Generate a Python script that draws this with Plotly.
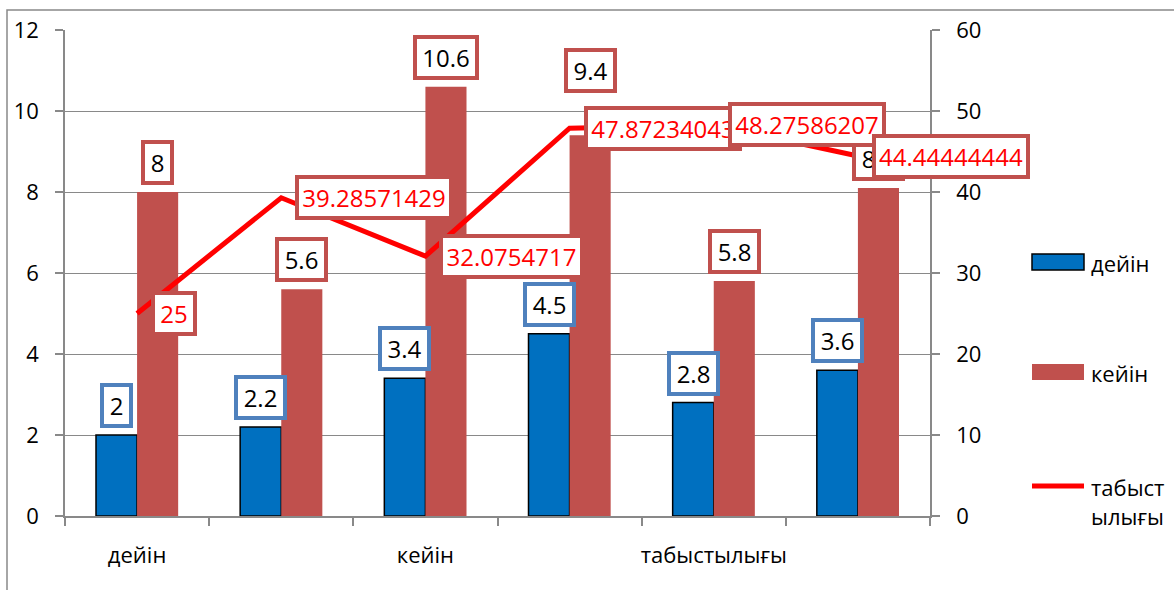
import plotly.graph_objects as go

# Series data
series_names = ["дейін", "кейін", "табыстылығы"]
before_vals = [2, 2.2, 3.4, 4.5, 2.8, 3.6]
after_vals = [8, 5.6, 10.6, 9.4, 5.8, 8.1]
success_vals = [25, 39.28571429, 32.0754717, 47.87234043, 48.27586207, 44.44444444]

# Category axis: six groups, only every other one labelled
tick_positions = [0, 2, 4]
tick_labels = ["дейін", "кейін", "табыстылығы"]

# Extra upward lift (px) for individual "кейін" value boxes
after_label_lift = [0, 0, 0, 35, 0, 0]

W, H = 1174, 590
ML, MR, MT, MB = 65, 244, 30, 74
PW, PH = W - ML - MR, H - MT - MB

BLUE = "#0070c0"
RED_BAR = "#c0504d"
BLUE_EDGE = "#4f81bd"
LINE_RED = "#ff0000"
GRID = "#898989"
FONT = "Open Sans"


def px(x):
    return (x - ML) / PW


def py(y):
    return (H - MB - y) / PH


def box_width(text):
    # approximate width of a numeric label at 24px, plus inner padding
    w = 0.0
    for ch in text:
        w += 6.2 if ch == "." else 13.2
    return round(w + 6)


xs = list(range(len(before_vals)))
bar_half = 0.1425

fig = go.Figure()
fig.add_trace(go.Bar(
    x=xs, y=before_vals, name=series_names[0],
    marker=dict(color=BLUE, line=dict(color="black", width=1.5)),
    showlegend=False, hoverinfo="skip",
))
fig.add_trace(go.Bar(
    x=xs, y=after_vals, name=series_names[1],
    marker=dict(color=RED_BAR, line=dict(width=0)),
    showlegend=False, hoverinfo="skip",
))
fig.add_trace(go.Scatter(
    x=xs, y=success_vals, name=series_names[2], yaxis="y2",
    mode="lines", line=dict(color=LINE_RED, width=5),
    showlegend=False, hoverinfo="skip",
))
# empty trace so the category-label axis gets drawn
fig.add_trace(go.Scatter(
    x=tick_positions, y=[None] * len(tick_positions), xaxis="x3",
    mode="markers", showlegend=False, hoverinfo="skip",
))

annotations = []
label_font = dict(family=FONT, size=24, color="black")
BOX_H = 31

for i, v in enumerate(before_vals):
    t = f"{v:g}"
    annotations.append(dict(
        x=i - bar_half, y=v, xref="x", yref="y", text=t,
        showarrow=False, xanchor="center", yanchor="bottom", yshift=7,
        width=box_width(t), height=BOX_H,
        font=label_font, bgcolor="white", bordercolor=BLUE_EDGE,
        borderwidth=4, borderpad=3,
    ))
for i, v in enumerate(after_vals):
    t = f"{v:g}"
    annotations.append(dict(
        x=i + bar_half, y=v, xref="x", yref="y", text=t,
        showarrow=False, xanchor="center", yanchor="bottom",
        yshift=7 + after_label_lift[i],
        width=box_width(t), height=BOX_H,
        font=label_font, bgcolor="white", bordercolor=RED_BAR,
        borderwidth=4, borderpad=3,
    ))
for i, v in enumerate(success_vals):
    t = f"{v:.10g}"
    annotations.append(dict(
        x=i, y=v, xref="x", yref="y2", text=t,
        showarrow=False, xanchor="left", yanchor="middle", xshift=14,
        width=box_width(t), height=BOX_H,
        font=dict(family=FONT, size=24, color=LINE_RED),
        bgcolor="white", bordercolor=RED_BAR,
        borderwidth=4, borderpad=3,
    ))

# Legend drawn at the right side
legend_font = dict(family=FONT, size=22, color="black")
legend_rows = [262, 372, 486]
shapes = [
    # chart frame
    dict(type="rect", xref="paper", yref="paper",
         x0=px(7), x1=px(1200), y0=py(620), y1=py(10),
         line=dict(color=GRID, width=1.5), layer="below"),
    dict(type="rect", xref="paper", yref="paper",
         x0=px(1032), x1=px(1084), y0=py(legend_rows[0] + 8), y1=py(legend_rows[0] - 8),
         fillcolor=BLUE, line=dict(color="black", width=1.5)),
    dict(type="rect", xref="paper", yref="paper",
         x0=px(1032), x1=px(1084), y0=py(legend_rows[1] + 8), y1=py(legend_rows[1] - 8),
         fillcolor=RED_BAR, line=dict(width=0)),
    dict(type="line", xref="paper", yref="paper",
         x0=px(1032), x1=px(1084), y0=py(legend_rows[2]), y1=py(legend_rows[2]),
         line=dict(color=LINE_RED, width=5)),
]
legend_texts = [series_names[0], series_names[1],
                series_names[2][:6] + "<br>" + series_names[2][6:]]
for row, txt in zip(legend_rows, legend_texts):
    annotations.append(dict(
        x=px(1089), y=py(row - 16), xref="paper", yref="paper", text=txt,
        showarrow=False, xanchor="left", yanchor="top", align="left",
        font=legend_font,
    ))

axis_font = dict(family=FONT, size=22, color="black")
n = len(before_vals)
fig.update_layout(
    width=W, height=H,
    margin=dict(l=ML, r=MR, t=MT, b=MB, pad=0),
    paper_bgcolor="white", plot_bgcolor="white",
    barmode="group", bargap=0.43, bargroupgap=0,
    showlegend=False,
    xaxis=dict(
        range=[-0.5, n - 0.5], tickmode="array",
        tickvals=[i - 0.5 for i in range(n + 1)],
        showticklabels=False, ticks="outside", ticklen=8, tickwidth=1.5,
        tickcolor=GRID, showline=True, linecolor=GRID, linewidth=1.5,
        showgrid=False, zeroline=False,
    ),
    xaxis3=dict(
        overlaying="x", anchor="y", side="bottom",
        range=[-0.5, n - 0.5], tickmode="array",
        tickvals=tick_positions, ticktext=tick_labels,
        ticks="", showline=False, showgrid=False, zeroline=False,
        tickfont=axis_font, ticklabelstandoff=24,
    ),
    yaxis=dict(
        range=[0, 12], dtick=2, tickfont=axis_font,
        ticks="outside", ticklen=8, tickwidth=1.5, tickcolor=GRID,
        showline=True, linecolor=GRID, linewidth=1.5,
        showgrid=True, gridcolor=GRID, gridwidth=1.2, zeroline=False,
        ticklabelstandoff=12,
    ),
    yaxis2=dict(
        range=[0, 60], dtick=10, tickfont=axis_font, overlaying="y",
        side="right", ticks="outside", ticklen=8, tickwidth=1.5,
        tickcolor=GRID, showline=True, linecolor=GRID, linewidth=1.5,
        showgrid=False, zeroline=False, ticklabelstandoff=12,
    ),
    shapes=shapes,
    annotations=annotations,
)

fig.write_html("out.html")
